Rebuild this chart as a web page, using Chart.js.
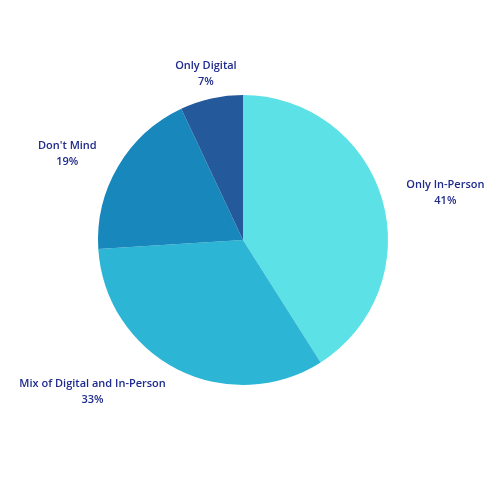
<!DOCTYPE html>
<html>
<head>
<meta charset="utf-8">
<script src="https://cdn.jsdelivr.net/npm/chart.js@4/dist/chart.umd.min.js"></script>
<style>
  html, body { margin: 0; padding: 0; background: #ffffff; }
  #wrap { width: 500px; height: 500px; }
</style>
</head>
<body>
<div id="wrap"><canvas id="myChart"></canvas></div>
<script>
const categorias = ["Only In-Person", "Mix of Digital and In-Person", "Don't Mind", "Only Digital"];
const porcentajes = [41, 33, 19, 7];
const colores = ["#5CE1E6", "#2CB5D4", "#1888BC", "#245A9B"];

// etiquetas fuera del pastel, como en la imagen
const etiquetasFuera = {
  id: "etiquetasFuera",
  afterDraw(chart) {
    const ctx = chart.ctx;
    const arcos = chart.getDatasetMeta(0).data;
    ctx.save();
    ctx.fillStyle = "#1E2A8C";
    ctx.font = "600 11px 'Open Sans', sans-serif";
    ctx.textAlign = "center";
    ctx.textBaseline = "middle";
    arcos.forEach((arc, i) => {
      const ang = (arc.startAngle + arc.endAngle) / 2;
      const r = arc.outerRadius + 25;
      const x = arc.x + Math.cos(ang) * r;
      const y = arc.y + Math.sin(ang) * r;
      const texto = [categorias[i], porcentajes[i] + "%"];
      const ancho = Math.max(...texto.map((t) => ctx.measureText(t).width));
      const c = Math.cos(ang);
      let cx = x;
      if (Math.abs(c) >= 0.3) cx = c > 0 ? x + ancho / 2 : x - ancho / 2;
      ctx.fillText(texto[0], cx, y - 8);
      ctx.fillText(texto[1], cx, y + 8);
    });
    ctx.restore();
  },
};

new Chart(document.querySelector("#myChart"), {
  type: "pie",
  data: {
    labels: categorias,
    datasets: [
      {
        data: porcentajes,
        backgroundColor: colores,
        borderWidth: 0,
      },
    ],
  },
  options: {
    responsive: true,
    maintainAspectRatio: false,
    animation: false,
    layout: { padding: { top: 95, bottom: 115, left: 98, right: 112 } },
    plugins: {
      legend: { display: false },
      tooltip: { enabled: false },
    },
  },
  plugins: [etiquetasFuera],
});
</script>
</body>
</html>
